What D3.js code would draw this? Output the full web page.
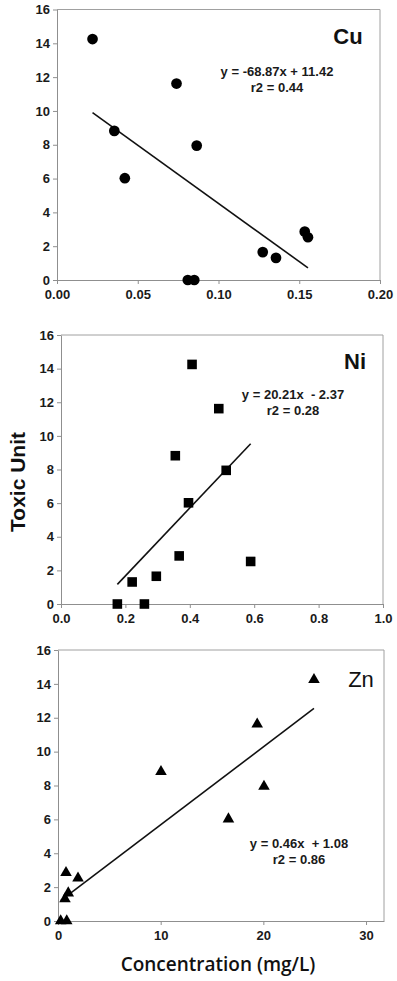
<!DOCTYPE html>
<html>
<head>
<meta charset="utf-8">
<script src="https://cdn.jsdelivr.net/npm/d3@7"></script>
<style>
  body { margin: 0; background: #fff; }
  .axis path, .axis line { stroke: #8f8f8f; }
  .axis text { font-family: "Liberation Sans", Arial, sans-serif; font-weight: bold; font-size: 13px; fill: #1a1a1a; }
</style>
</head>
<body>
<div id="chart"></div>
<script>
let width = 397;
let height = 981;

// toxic unit of each site (same sites in all three panels)
let toxicUnit = [14.25, 11.62, 8.82, 7.95, 6.02, 2.86, 2.53, 1.65, 1.31, 0, 0];

// metal concentration (mg/L) for the same sites
let cuConc = [0.022, 0.074, 0.0355, 0.0865, 0.042, 0.1534, 0.1554, 0.1274, 0.1356, 0.081, 0.085];
let niConc = [0.407, 0.490, 0.355, 0.513, 0.396, 0.367, 0.589, 0.296, 0.221, 0.175, 0.259];
let znConc = [24.93, 19.4, 10.03, 20.06, 16.6, 0.78, 1.95, 1.0, 0.68, 0.26, 0.85];

let metals = ["Cu", "Ni", "Zn"];
let slopes = [-68.87, 20.21, 0.46];
let intercepts = [11.42, -2.37, 1.08];
let equations = ["y = -68.87x + 11.42", "y = 20.21x  - 2.37", "y = 0.46x  + 1.08"];
let rSquared = ["r2 = 0.44", "r2 = 0.28", "r2 = 0.86"];

let yTicks = [0, 2, 4, 6, 8, 10, 12, 14, 16];
let cuTicks = [0, 0.05, 0.10, 0.15, 0.20];
let niTicks = [0, 0.2, 0.4, 0.6, 0.8, 1.0];
let znTicks = [0, 10, 20, 30];

let svg = d3.select("#chart")
  .append("svg")
    .attr("width", width)
    .attr("height", height);

// pixel boxes of the three panels
let panels = [
  {conc: cuConc, ticks: cuTicks, fmt: ".2f", xMax: 0.20, x0: 57, x1: 380, top: 9.5, bottom: 280,
   marker: "circle", labelX: 348, labelY: 44, bold: true, eqX: 277, eqY: 76},
  {conc: niConc, ticks: niTicks, fmt: ".1f", xMax: 1.0, x0: 61, x1: 383, top: 335, bottom: 604,
   marker: "square", labelX: 355, labelY: 369, bold: true, eqX: 293, eqY: 399},
  {conc: znConc, ticks: znTicks, fmt: "d", xMax: 31.75, x0: 58, x1: 384, top: 650, bottom: 921,
   marker: "triangle", labelX: 361, labelY: 687, bold: false, eqX: 299, eqY: 848}
];

panels.forEach(drawPanel);

function drawPanel(p, i) {
  let xScale = d3.scaleLinear().domain([0, p.xMax]).range([p.x0, p.x1]);
  let yScale = d3.scaleLinear().domain([0, 16]).range([p.bottom, p.top]);

  let g = svg.append("g").attr("class", "panel");

  // frame on top and right
  g.append("path")
    .attr("d", "M" + p.x0 + "," + yScale(16) + "H" + p.x1 + "V" + p.bottom)
    .attr("fill", "none")
    .attr("stroke", "#a0a0a0");

  let xAxis = d3.axisBottom(xScale).tickValues(p.ticks).tickFormat(d3.format(p.fmt))
    .tickSizeInner(4).tickSizeOuter(0).tickPadding(6);
  g.append("g").attr("class", "axis")
    .attr("transform", "translate(0," + p.bottom + ")")
    .call(xAxis);

  let yAxis = d3.axisLeft(yScale).tickValues(yTicks)
    .tickSizeInner(4).tickSizeOuter(0).tickPadding(3);
  g.append("g").attr("class", "axis")
    .attr("transform", "translate(" + p.x0 + ",0)")
    .call(yAxis);

  // regression line over the range of the data
  let ext = d3.extent(p.conc);
  let fit = ext.map(x => [xScale(x), yScale(slopes[i] * x + intercepts[i])]);
  g.append("path")
    .attr("d", d3.line()(fit))
    .attr("stroke", "#111")
    .attr("stroke-width", 1.6)
    .attr("fill", "none");

  let sym;
  if (p.marker == "circle") {
    sym = d3.symbol().type(d3.symbolCircle).size(90);
  } else if (p.marker == "square") {
    sym = d3.symbol().type(d3.symbolSquare).size(92);
  } else {
    sym = d3.symbol().type(d3.symbolTriangle).size(58);
  }

  g.selectAll(".pt").data(p.conc).enter()
    .append("path")
      .attr("class", "pt")
      .attr("d", sym)
      .attr("transform", (d, j) => "translate(" + xScale(d) + "," + yScale(toxicUnit[j]) + ")")
      .attr("fill", "#000");

  g.append("text")
    .text(metals[i])
    .attr("x", p.labelX)
    .attr("y", p.labelY)
    .attr("text-anchor", "middle")
    .style("font-family", "'Liberation Sans', Arial, sans-serif")
    .style("font-weight", p.bold ? "bold" : "normal")
    .style("font-size", "22px")
    .style("fill", "#111");

  g.append("text")
    .text(equations[i])
    .attr("x", p.eqX)
    .attr("y", p.eqY)
    .attr("text-anchor", "middle")
    .style("white-space", "pre")
    .style("font-family", "'Liberation Sans', Arial, sans-serif")
    .style("font-weight", "bold")
    .style("font-size", "13px")
    .style("fill", "#1a1a1a");

  g.append("text")
    .text(rSquared[i])
    .attr("x", p.eqX)
    .attr("y", p.eqY + 15.5)
    .attr("text-anchor", "middle")
    .style("font-family", "'Liberation Sans', Arial, sans-serif")
    .style("font-weight", "bold")
    .style("font-size", "13px")
    .style("fill", "#1a1a1a");
}

svg.append("text")
  .text("Toxic Unit")
  .attr("transform", "translate(25,482) rotate(-90)")
  .attr("text-anchor", "middle")
  .style("font-family", "'Liberation Sans', Arial, sans-serif")
  .style("font-weight", "bold")
  .style("font-size", "21px")
  .style("fill", "#111");

svg.append("text")
  .text("Concentration (mg/L)")
  .attr("x", 218)
  .attr("y", 971)
  .attr("text-anchor", "middle")
  .style("font-family", "'Open Sans', sans-serif")
  .style("font-weight", "600")
  .style("font-size", "19px")
  .style("fill", "#111");
</script>
</body>
</html>
